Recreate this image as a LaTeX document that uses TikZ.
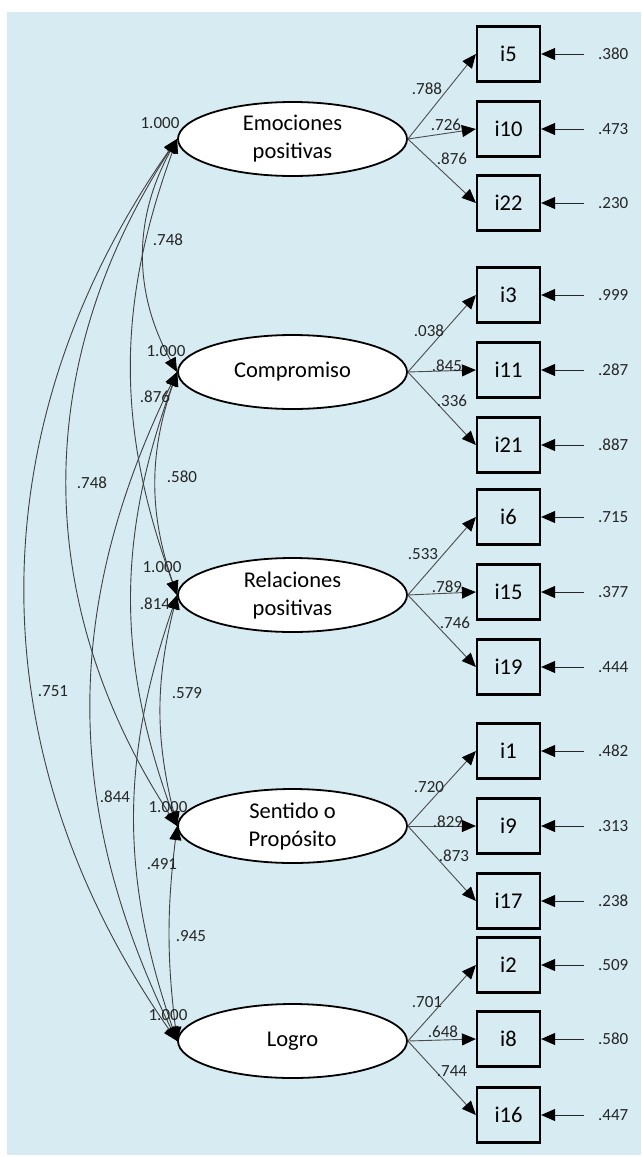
\documentclass[tikz,border=0pt]{standalone}
\usepackage{fontspec}
\setmainfont{Carlito}
\usetikzlibrary{shapes.geometric,arrows.meta}
\definecolor{bgblue}{RGB}{214,235,242}
\newcommand{\lb}{\fontsize{22.5}{28}\selectfont}
\newcommand{\sm}{\fontsize{17}{20}\selectfont}
\tikzset{
  lat/.style={ellipse,draw,line width=1.8pt,fill=white,minimum width=229pt,minimum height=74pt,inner sep=0pt,align=center,font=\lb},
  obs/.style={rectangle,draw,line width=2.2pt,minimum width=63pt,minimum height=55pt,inner sep=0pt,font=\lb},
  num/.style={font=\sm,text=black!85,inner sep=0pt},
  tip/.tip={Triangle[length=14pt,width=12pt,color=black]},
  ld/.style={-tip,line width=0.9pt,black!70},
  er/.style={-tip,line width=1pt,black!85,shorten <=14pt},
  cov/.style={tip-tip,line width=0.9pt,black!75}
}

\begin{document}
\begin{tikzpicture}[x=1pt,y=-1pt]
   \useasboundingbox (0,0) rectangle (641,1157);
   \fill[bgblue] (7,12) rectangle (641,1155);
   % factores
   \node[lat] (emo) at (292.5,139) {Emociones\\positivas};
   \node[lat] (com) at (292.5,372) {Compromiso};
   \node[lat] (rel) at (292.5,595) {Relaciones\\positivas};
   \node[lat] (sen) at (292.5,826) {Sentido o\\Propósito};
   \node[lat] (log) at (292.5,1041) {Logro};
   % items
   \node[obs] (i5)  at (508.5,54)   {i5};
   \node[obs] (i10) at (508.5,129)  {i10};
   \node[obs] (i22) at (508.5,203)  {i22};
   \node[obs] (i3)  at (508.5,295)  {i3};
   \node[obs] (i11) at (508.5,370)  {i11};
   \node[obs] (i21) at (508.5,445)  {i21};
   \node[obs] (i6)  at (508.5,517)  {i6};
   \node[obs] (i15) at (508.5,592)  {i15};
   \node[obs] (i19) at (508.5,667)  {i19};
   \node[obs] (i1)  at (508.5,751)  {i1};
   \node[obs] (i9)  at (508.5,826)  {i9};
   \node[obs] (i17) at (508.5,901)  {i17};
   \node[obs] (i2)  at (508.5,965)  {i2};
   \node[obs] (i8)  at (508.5,1039) {i8};
   \node[obs] (i16) at (508.5,1115) {i16};
   % cargas
   \draw[ld] (emo.east) -- (i5.west);
   \draw[ld] (emo.east) -- (i10.west);
   \draw[ld] (emo.east) -- (i22.west);
   \draw[ld] (com.east) -- (i3.west);
   \draw[ld] (com.east) -- (i11.west);
   \draw[ld] (com.east) -- (i21.west);
   \draw[ld] (rel.east) -- (i6.west);
   \draw[ld] (rel.east) -- (i15.west);
   \draw[ld] (rel.east) -- (i19.west);
   \draw[ld] (sen.east) -- (i1.west);
   \draw[ld] (sen.east) -- (i9.west);
   \draw[ld] (sen.east) -- (i17.west);
   \draw[ld] (log.east) -- (i2.west);
   \draw[ld] (log.east) -- (i8.west);
   \draw[ld] (log.east) -- (i16.west);
   \node[num] (l5)  at (427,89)   {.788};
   \node[num] (l10) at (446,125)  {.726};
   \node[num] (l22) at (452,159)  {.876};
   \node[num] (l3)  at (429,331)  {.038};
   \node[num] (l11) at (447,366)  {.845};
   \node[num] (l21) at (452,401)  {.336};
   \node[num] (l6)  at (423,554)  {.533};
   \node[num] (l15) at (447,587)  {.789};
   \node[num] (l19) at (455,623)  {.746};
   \node[num] (l1)  at (429,787)  {.720};
   \node[num] (l9)  at (448,822)  {.829};
   \node[num] (l17) at (454,856)  {.873};
   \node[num] (l2)  at (427,1002) {.701};
   \node[num] (l8)  at (443,1032) {.648};
   \node[num] (l16) at (452,1071) {.744};
   % errores
   \node[num,anchor=west] (e5)  at (598,54)   {.380};
   \node[num,anchor=west] (e10) at (598,129)  {.473};
   \node[num,anchor=west] (e22) at (598,203)  {.230};
   \node[num,anchor=west] (e3)  at (598,295)  {.999};
   \node[num,anchor=west] (e11) at (598,370)  {.287};
   \node[num,anchor=west] (e21) at (598,445)  {.887};
   \node[num,anchor=west] (e6)  at (598,517)  {.715};
   \node[num,anchor=west] (e15) at (598,592)  {.377};
   \node[num,anchor=west] (e19) at (598,667)  {.444};
   \node[num,anchor=west] (e1)  at (598,751)  {.482};
   \node[num,anchor=west] (e9)  at (598,826)  {.313};
   \node[num,anchor=west] (e17) at (598,901)  {.238};
   \node[num,anchor=west] (e2)  at (598,965)  {.509};
   \node[num,anchor=west] (e8)  at (598,1039) {.580};
   \node[num,anchor=west] (e16) at (598,1115) {.447};
   \draw[er] (e5.west)  -- (i5.east);
   \draw[er] (e10.west) -- (i10.east);
   \draw[er] (e22.west) -- (i22.east);
   \draw[er] (e3.west)  -- (i3.east);
   \draw[er] (e11.west) -- (i11.east);
   \draw[er] (e21.west) -- (i21.east);
   \draw[er] (e6.west)  -- (i6.east);
   \draw[er] (e15.west) -- (i15.east);
   \draw[er] (e19.west) -- (i19.east);
   \draw[er] (e1.west)  -- (i1.east);
   \draw[er] (e9.west)  -- (i9.east);
   \draw[er] (e17.west) -- (i17.east);
   \draw[er] (e2.west)  -- (i2.east);
   \draw[er] (e8.west)  -- (i8.east);
   \draw[er] (e16.west) -- (i16.east);
   % covarianzas
   \draw[cov] (emo.west) to[bend right=29] (com.west);
   \draw[cov] (com.west) to[bend right=19] (rel.west);
   \draw[cov] (rel.west) to[bend right=14] (sen.west);
   \draw[cov] (sen.west) to[bend right=7]  (log.west);
   \draw[cov] (emo.west) to[bend right=20] (rel.west);
   \draw[cov] (com.west) to[bend right=20] (sen.west);
   \draw[cov] (rel.west) to[bend right=19] (log.west);
   \draw[cov] (emo.west) to[bend right=33] (sen.west);
   \draw[cov] (com.west) to[bend right=26] (log.west);
   \draw[cov] (emo.west) to[bend right=35] (log.west);
   \node[num] (v1) at (160,123)  {1.000};
   \node[num] (v2) at (166,351)  {1.000};
   \node[num] (v3) at (162,567)  {1.000};
   \node[num] (v4) at (168,807)  {1.000};
   \node[num] (v5) at (168,1015) {1.000};
   \node[num] (c1)  at (168,240) {.748};
   \node[num] (c2)  at (155,397) {.876};
   \node[num] (c3)  at (92,483)  {.748};
   \node[num] (c4)  at (182,477) {.580};
   \node[num] (c5)  at (155,604) {.814};
   \node[num] (c6)  at (53,691)  {.751};
   \node[num] (c7)  at (187,693) {.579};
   \node[num] (c8)  at (115,797) {.844};
   \node[num] (c9)  at (162,864) {.491};
   \node[num] (c10) at (191,936) {.945};
\end{tikzpicture}
\end{document}
